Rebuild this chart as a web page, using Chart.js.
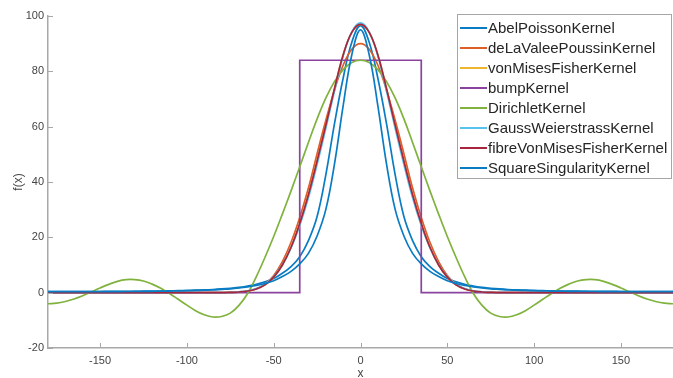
<!DOCTYPE html>
<html><head><meta charset="utf-8">
<script src="https://cdn.jsdelivr.net/npm/chart.js@4/dist/chart.umd.min.js"></script>
<style>html,body{margin:0;padding:0;background:#fff}#wrap{width:673px;height:378px}</style>
</head><body><div id="wrap"><canvas id="c" width="673" height="378"></canvas></div>
<script>
// x positions (degrees), shared by the smooth kernels
const xValues = [-180,-175,-170,-165,-160,-155,-150,-145,-140,-135,-130,-125,-120,-115,-110,-105,-100,-95,-90,-85,-80,-75,-70,-65,-60,-55,-50,-45,-40,-35,-30,-25,-20,-15,-10,-5,0,5,10,15,20,25,30,35,40,45,50,55,60,65,70,75,80,85,90,95,100,105,110,115,120,125,130,135,140,145,150,155,160,165,170,175,180];

const abelPoisson = [0.4,0.4,0.4,0.4,0.41,0.42,0.43,0.44,0.46,0.48,0.5,0.53,0.57,0.61,0.66,0.72,0.8,0.9,1.0,1.15,1.35,1.6,1.9,2.4,3.0,3.9,5.1,7.0,9.4,13,18.8,27.5,42.5,61,77.5,90.5,96.5,90.5,77.5,61,42.5,27.5,18.8,13,9.4,7.0,5.1,3.9,3.0,2.4,1.9,1.6,1.35,1.15,1.0,0.9,0.8,0.72,0.66,0.61,0.57,0.53,0.5,0.48,0.46,0.44,0.43,0.42,0.41,0.4,0.4,0.4,0.4];
const deLaValeePoussin = [0,0,0,0,0,0,0,0,0,0,0,0,0,0,0,0,0,0,0,0,0,0.1,0.2,0.6,1.4,3.1,6.2,11.2,18.2,27.2,37.8,50.2,62.2,73.2,82.2,88,90,88,82.2,73.2,62.2,50.2,37.8,27.2,18.2,11.2,6.2,3.1,1.4,0.6,0.2,0.1,0,0,0,0,0,0,0,0,0,0,0,0,0,0,0,0,0,0,0,0,0];
const vonMisesFisher = [0,0,0,0,0,0,0,0,0,0,0,0,0,0,0,0,0,0,0,0,0,0.1,0.25,0.6,1.3,2.8,5.6,10,16.4,25,35.4,47.6,60.5,73.7,85.9,94.1,97,94.1,85.9,73.7,60.5,47.6,35.4,25,16.4,10,5.6,2.8,1.3,0.6,0.25,0.1,0,0,0,0,0,0,0,0,0,0,0,0,0,0,0,0,0,0,0,0,0];
const bumpX = [-180,-35,-35,35,35,180];
const bumpY = [0,0,84,84,0,0];
const dirichlet = [-4.0,-3.8,-3.2,-2.3,-1.1,0.3,1.7,3.0,4.1,4.7,4.7,4.2,3.1,1.6,-0.3,-2.4,-4.5,-6.5,-8.0,-8.8,-8.6,-7.4,-4.6,-0.3,5.8,12.8,20.3,28.4,36.8,45.5,54.3,62.8,70.3,76.3,80.6,83.2,84,83.2,80.6,76.3,70.3,62.8,54.3,45.5,36.8,28.4,20.3,12.8,5.8,-0.3,-4.6,-7.4,-8.6,-8.8,-8.0,-6.5,-4.5,-2.4,-0.3,1.6,3.1,4.2,4.7,4.7,4.1,3.0,1.7,0.3,-1.1,-2.3,-3.2,-3.8,-4.0];
const gaussWeierstrass = [0,0,0,0,0,0,0,0,0,0,0,0,0,0,0,0,0,0,0,0,0,0.1,0.3,0.7,1.5,3.1,5.8,10.1,16.2,24.3,34.3,46.3,59.3,72.8,85.5,94.3,97.5,94.3,85.5,72.8,59.3,46.3,34.3,24.3,16.2,10.1,5.8,3.1,1.5,0.7,0.3,0.1,0,0,0,0,0,0,0,0,0,0,0,0,0,0,0,0,0,0,0,0,0];
const fibreVonMisesFisher = [0,0,0,0,0,0,0,0,0,0,0,0,0,0,0,0,0,0,0,0,0,0.1,0.25,0.6,1.3,2.8,5.6,10,16.4,25,35.4,47.6,60.5,73.7,85.9,94.1,97,94.1,85.9,73.7,60.5,47.6,35.4,25,16.4,10,5.6,2.8,1.3,0.6,0.25,0.1,0,0,0,0,0,0,0,0,0,0,0,0,0,0,0,0,0,0,0,0,0];
const squareSingularity = [0.35,0.35,0.35,0.36,0.36,0.37,0.38,0.39,0.4,0.42,0.44,0.47,0.5,0.54,0.58,0.64,0.7,0.8,0.9,1.0,1.2,1.4,1.7,2.1,2.6,3.3,4.3,5.8,7.7,10.4,14.2,20.5,30,46.5,67.5,86,95,86,67.5,46.5,30,20.5,14.2,10.4,7.7,5.8,4.3,3.3,2.6,2.1,1.7,1.4,1.2,1.0,0.9,0.8,0.7,0.64,0.58,0.54,0.5,0.47,0.44,0.42,0.4,0.39,0.38,0.37,0.36,0.36,0.35,0.35,0.35];

const seriesNames = ['AbelPoissonKernel','deLaValeePoussinKernel','vonMisesFisherKernel','bumpKernel','DirichletKernel','GaussWeierstrassKernel','fibreVonMisesFisherKernel','SquareSingularityKernel'];
const seriesColors = ['#0a7cc4','#dc5f2a','#eeb62e','#8a43a0','#80b23e','#58c2ef','#a8263d','#0a7cc4'];
const xTicks = [-150,-100,-50,0,50,100,150];
const yTicks = [-20,0,20,40,60,80,100];

const pts = (xs, ys) => xs.map((x, i) => ({x: x, y: ys[i]}));
const seriesData = [
  pts(xValues, abelPoisson),
  pts(xValues, deLaValeePoussin),
  pts(xValues, vonMisesFisher),
  pts(bumpX, bumpY),
  pts(xValues, dirichlet),
  pts(xValues, gaussWeierstrass),
  pts(xValues, fibreVonMisesFisher),
  pts(xValues, squareSingularity)
];

const axisColor = '#a8a8a8';
const textColor = '#444444';
const fontFamily = '"Liberation Sans", Arial, sans-serif';

const datasets = seriesData.map((d, i) => ({
  label: seriesNames[i],
  data: d,
  borderColor: seriesColors[i],
  backgroundColor: seriesColors[i],
  borderWidth: 1.7,
  pointRadius: 0,
  fill: false,
  tension: i === 3 ? 0 : 0.4,
  order: seriesNames.length - i
}));

const innerTicks = {
  id: 'innerTicks',
  afterDatasetsDraw(chart) {
    const {ctx, chartArea, scales} = chart;
    ctx.save();
    ctx.strokeStyle = axisColor;
    ctx.lineWidth = 1;
    ctx.beginPath();
    scales.x.ticks.forEach(t => {
      const px = Math.round(scales.x.getPixelForValue(t.value)) + 0.5;
      ctx.moveTo(px, chartArea.bottom);
      ctx.lineTo(px, chartArea.bottom - 5);
    });
    scales.y.ticks.forEach(t => {
      const py = Math.round(scales.y.getPixelForValue(t.value)) + 0.5;
      ctx.moveTo(chartArea.left, py);
      ctx.lineTo(chartArea.left + 5, py);
    });
    ctx.stroke();
    ctx.restore();
  }
};

const boxLegend = {
  id: 'boxLegend',
  afterDraw(chart) {
    const ctx = chart.ctx;
    const left = 457.5, top = 14.5, w = 214, h = 164;
    ctx.save();
    ctx.fillStyle = '#ffffff';
    ctx.fillRect(left, top, w, h);
    ctx.strokeStyle = '#a6a6a6';
    ctx.lineWidth = 1;
    ctx.strokeRect(left, top, w, h);
    ctx.font = '15px ' + fontFamily;
    ctx.textBaseline = 'middle';
    ctx.textAlign = 'left';
    chart.data.datasets.forEach((ds, i) => {
      const cy = 28 + i * 20;
      ctx.strokeStyle = ds.borderColor;
      ctx.lineWidth = 2;
      ctx.beginPath();
      ctx.moveTo(460, cy);
      ctx.lineTo(487, cy);
      ctx.stroke();
      ctx.fillStyle = '#262626';
      ctx.fillText(ds.label, 488, cy + 1);
    });
    ctx.restore();
  }
};

new Chart(document.getElementById('c'), {
  type: 'line',
  data: {datasets: datasets},
  options: {
    responsive: false,
    animation: false,
    devicePixelRatio: 1,
    layout: {padding: {left: 0, top: 16, right: -3, bottom: 0}},
    plugins: {legend: {display: false}, tooltip: {enabled: false}},
    scales: {
      x: {
        type: 'linear',
        min: -180, max: 180,
        afterBuildTicks: s => { s.ticks = xTicks.map(v => ({value: v})); },
        afterFit: s => { s.height = 30; },
        grid: {display: true, drawOnChartArea: false, drawTicks: false, color: axisColor},
        border: {display: true, color: axisColor, width: 1.5},
        ticks: {padding: 6, color: textColor, font: {family: fontFamily, size: 11}, maxRotation: 0},
        title: {display: true, text: 'x', color: textColor, padding: {top: 0, bottom: -3}, font: {family: fontFamily, size: 12}}
      },
      y: {
        type: 'linear',
        min: -20, max: 100,
        afterBuildTicks: s => { s.ticks = yTicks.map(v => ({value: v})); },
        afterFit: s => { s.width = 48; },
        grid: {display: true, drawOnChartArea: false, drawTicks: false, color: axisColor},
        border: {display: true, color: axisColor, width: 1.5},
        ticks: {padding: 4, color: textColor, font: {family: fontFamily, size: 11}},
        title: {display: true, text: 'f(x)', color: textColor, padding: {top: 11, bottom: 0}, font: {family: fontFamily, size: 12}}
      }
    }
  },
  plugins: [innerTicks, boxLegend]
});
</script>
</body></html>
